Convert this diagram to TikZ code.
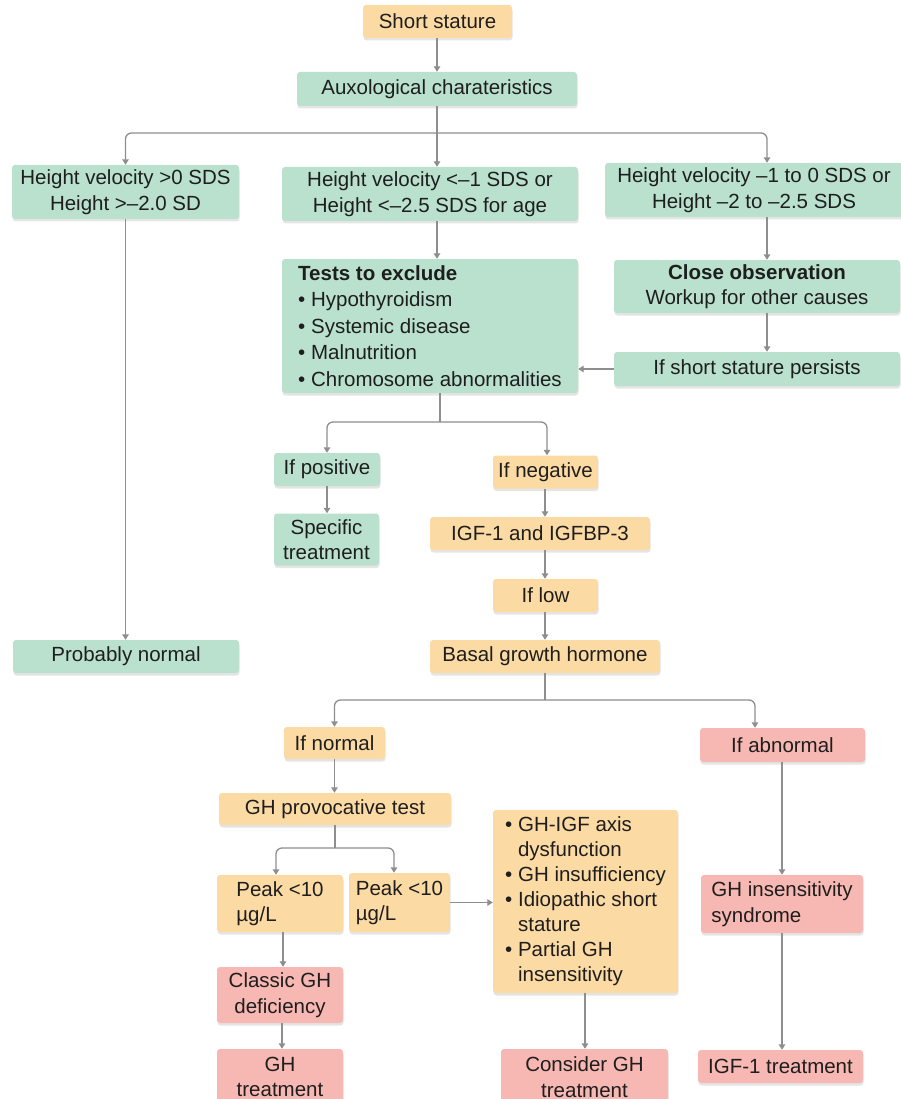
\documentclass[tikz,border=0pt]{standalone}
\usepackage{fontspec}
\setmainfont{Liberation Sans}
\usetikzlibrary{arrows.meta,shadows}
\definecolor{gr}{HTML}{B9E1CD}
\definecolor{orb}{HTML}{FCDAA3}
\definecolor{pk}{HTML}{F7B7B2}
\definecolor{lnc}{HTML}{8E8E8E}
\definecolor{tx}{HTML}{1E1E1E}
\newcommand\fsz{\fontsize{20.5}{25.5}\selectfont}
\newcommand\ind{\phantom{•\ }}
\tikzset{
  box/.style={rounded corners=3pt, inner sep=0pt, align=center, text=tx, font=\fsz,
    drop shadow={shadow xshift=0.5pt, shadow yshift=-2.5pt, opacity=0.10, fill=black}},
  gbox/.style={box, fill=gr},
  obox/.style={box, fill=orb},
  pbox/.style={box, fill=pk},
  wh/.style 2 args={minimum width=#1, minimum height=#2},
  ln/.style={draw=lnc, line width=1.3pt},
  arr/.style={ln, -{Triangle[width=6.5pt,length=5.5pt]}},
  rarr/.style={arr, rounded corners=6pt},
}
\begin{document}
\begin{tikzpicture}[x=1pt,y=-1pt]
\useasboundingbox (0,0) rectangle (901,1099);
% nodes
\node[obox, wh={149pt}{33pt}] (ss) at (437.5,21.5) {Short stature};
\node[gbox, wh={280pt}{34pt}] (aux) at (437,89) {Auxological charateristics};
\node[gbox, wh={227pt}{54pt}] (l1) at (125.5,192) {Height velocity >0 SDS\\Height >–2.0 SD};
\node[gbox, wh={296pt}{54pt}] (m1) at (430,194) {Height velocity <–1 SDS or\\Height <–2.5 SDS for age};
\node[gbox, wh={298pt}{54pt}] (r1) at (754,190) {Height velocity –1 to 0 SDS or\\Height –2 to –2.5 SDS};
\node[gbox, wh={296pt}{134pt}, align=left, font=\fontsize{20.5}{26.6}\selectfont] (tests) at (430,326)
  {\textbf{Tests to exclude}\\• Hypothyroidism\\• Systemic disease\\• Malnutrition\\• Chromosome abnormalities};
\node[gbox, wh={286pt}{53pt}] (co) at (757,286.5) {\textbf{Close observation}\\Workup for other causes};
\node[gbox, wh={286pt}{34pt}] (ssp) at (757,369) {If short stature persists};
\node[gbox, wh={106pt}{33pt}] (ipos) at (327,469.5) {If positive};
\node[gbox, wh={105pt}{52pt}] (spec) at (326.5,539.5) {Specific\\treatment};
\node[obox, wh={105pt}{33pt}] (ineg) at (545.5,472) {If negative};
\node[obox, wh={220pt}{33pt}] (igf) at (540,533.5) {IGF-1 and IGFBP-3};
\node[obox, wh={105pt}{33pt}] (ilow) at (545.5,595.5) {If low};
\node[obox, wh={230pt}{33pt}] (basal) at (545,656.5) {Basal growth hormone};
\node[gbox, wh={226pt}{33pt}] (pn) at (126,656.5) {Probably normal};
\node[obox, wh={101pt}{32pt}] (inorm) at (334.5,743) {If normal};
\node[pbox, wh={165pt}{34pt}] (iabn) at (782.5,745) {If abnormal};
\node[obox, wh={232pt}{32pt}] (ghp) at (335,809) {GH provocative test};
\node[obox, wh={126pt}{57pt}, align=left] (pk1) at (280,903.5) {Peak <10\\µg/L};
\node[obox, wh={101pt}{59pt}, align=left] (pk2) at (399.5,902.5) {Peak <10\\µg/L};
\node[obox, wh={185pt}{183pt}, align=left, font=\fontsize{20.5}{25}\selectfont] (bul) at (585.5,901.5)
  {• GH-IGF axis\\\ind dysfunction\\• GH insufficiency\\• Idiopathic short\\\ind stature\\• Partial GH\\\ind insensitivity};
\node[pbox, wh={126pt}{56pt}] (cgd) at (280,995) {Classic GH\\deficiency};
\node[pbox, wh={126pt}{56pt}] (ght) at (280,1077) {GH\\treatment};
\node[pbox, wh={167pt}{56pt}] (cgt) at (584.5,1077) {Consider GH\\treatment};
\node[pbox, wh={162pt}{58pt}, align=left] (gis) at (782,904) {GH insensitivity\\syndrome};
\node[pbox, wh={165pt}{33pt}] (igft) at (780.5,1066.5) {IGF-1 treatment};
% helper coordinates
\coordinate (b1) at (437,133);
\coordinate (rx) at (767,0);
\coordinate (tx) at (440,0);
\coordinate (b2) at (440,422);
\coordinate (px) at (327,0);
\coordinate (nx) at (547,0);
\coordinate (bx) at (545,0);
\coordinate (b3) at (545,700);
\coordinate (ax) at (755,0);
\coordinate (b4) at (335,848);
\coordinate (q1) at (276,0);
\coordinate (q2) at (394,0);
\coordinate (c1) at (283,0);
\coordinate (c2) at (282,0);
\coordinate (kx) at (585,0);
\coordinate (gx) at (782,0);
% connectors
\draw[arr] (ss.south -| aux.south) -- (aux.north);
\draw[ln] (aux.south) -- (b1);
\draw[rarr] (b1) -| (l1.north);
\draw[rarr] (b1) -| (r1.north -| rx);
\draw[arr] (b1) -- (m1.north -| b1);
\draw[arr] (l1.south) -- (l1.south |- pn.north);
\draw[arr] (m1.south -| b1) -- (tests.north -| b1);
\draw[arr] (r1.south -| rx) -- (co.north -| rx);
\draw[arr] (co.south -| rx) -- (ssp.north -| rx);
\draw[arr] (ssp.west) -- (tests.east |- ssp.west);
\draw[ln] (tests.south -| tx) -- (b2);
\draw[rarr] (b2) -| (ipos.north -| px);
\draw[rarr] (b2) -| (ineg.north -| nx);
\draw[arr] (ipos.south -| px) -- (spec.north -| px);
\draw[arr] (ineg.south -| bx) -- (igf.north -| bx);
\draw[arr] (igf.south -| bx) -- (ilow.north -| bx);
\draw[arr] (ilow.south -| bx) -- (basal.north -| bx);
\draw[ln] (basal.south -| bx) -- (b3);
\draw[rarr] (b3) -| (inorm.north);
\draw[rarr] (b3) -| (iabn.north -| ax);
\draw[arr] (inorm.south) -- (ghp.north -| inorm.south);
\draw[ln] (ghp.south) -- (b4);
\draw[rarr] (b4) -| (pk1.north -| q1);
\draw[rarr] (b4) -| (pk2.north -| q2);
\draw[arr] (pk2.east) -- (bul.west |- pk2.east);
\draw[arr] (pk1.south -| c1) -- (cgd.north -| c1);
\draw[arr] (cgd.south -| c2) -- (ght.north -| c2);
\draw[arr] (bul.south -| kx) -- (cgt.north -| kx);
\draw[arr] (iabn.south -| gx) -- (gis.north -| gx);
\draw[arr] (gis.south -| gx) -- (igft.north -| gx);
\end{tikzpicture}
\end{document}
